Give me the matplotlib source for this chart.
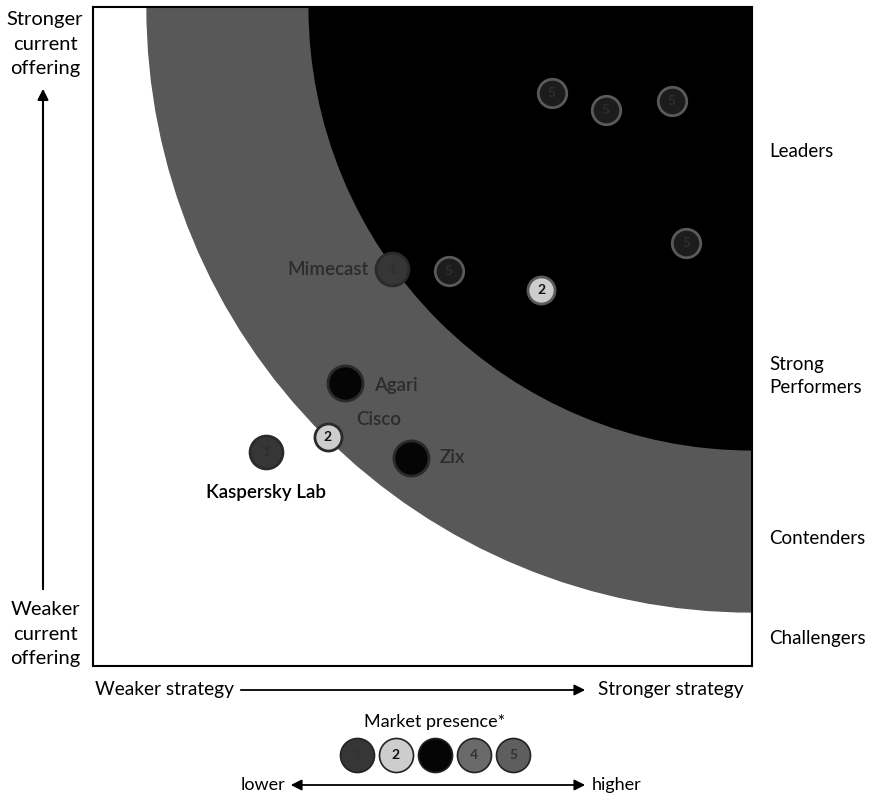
import matplotlib.pyplot as plt
from matplotlib.patches import Circle, FancyArrowPatch

# vendors: strategy (x), current offering (y), market presence (1-5), label
vx = [3.48, 3.89, 4.39, 4.50, 3.40, 2.70, 2.27, 1.91, 1.78, 2.41, 1.31]
vy = [4.35, 4.22, 4.29, 3.21, 2.85, 3.00, 3.01, 2.15, 1.74, 1.58, 1.62]
presence = [5, 5, 5, 5, 2, 5, 1, 3, 2, 3, 1]
names = ["", "", "", "", "", "", "Mimecast", "Agari", "Cisco", "Zix", "Kaspersky Lab"]

bands = ["Leaders", "Strong\nPerformers", "Contenders", "Challengers"]
band_y = [3.90, 2.20, 0.97, 0.21]
ring_r = [4.59, 3.36]

pres_col = {1: "#363636", 2: "#cdcdcd", 3: "#050505", 4: "#6a6a6a", 5: "#5e5e5e"}
pres_txt = {1: "1", 2: "2", 3: "", 4: "4", 5: "5"}
pres_size = {1: 560, 2: 380, 3: 640, 4: 420, 5: 420}

plt.rcParams['font.family'] = ['Lato', 'DejaVu Sans']

fig = plt.figure(figsize=(8.72, 8.02), dpi=100)
ax = fig.add_axes([93/872, 1-666/802, 659/872, 659/802])
ax.set_xlim(0, 5)
ax.set_ylim(0, 5)
ax.set_xticks([])
ax.set_yticks([])
for s in ax.spines.values():
    s.set_linewidth(1.5)
    s.set_zorder(10)

# wave bands centred on the top right corner
ax.add_patch(Circle((5, 5), ring_r[0], color="#585858", zorder=1))
ax.add_patch(Circle((5, 5), ring_r[1], color="#000000", zorder=2))

for i in range(len(vx)):
    p = presence[i]
    on_black = (vx[i]-5)**2 + (vy[i]-5)**2 < ring_r[1]**2
    fc = "#1c1c1c" if (on_black and p == 5) else pres_col[p]
    ec = "#5a5a5a" if on_black else "#2a2a2a"
    ax.scatter(vx[i], vy[i], s=pres_size[p], color=fc, edgecolor=ec,
               linewidth=2, zorder=5)
    if pres_txt[p]:
        tc = "#111111" if p == 2 else "#2e2e2e"
        ax.text(vx[i], vy[i], pres_txt[p], ha="center", va="center", fontsize=10,
                fontweight="bold", color=tc, zorder=6)

# vendor labels (barely readable in the scan, dark on dark)
lab_off = {"Mimecast": (-0.18, 0.0, "right", "center"),
           "Agari": (0.22, -0.02, "left", "center"),
           "Cisco": (0.22, 0.13, "left", "center"),
           "Zix": (0.22, 0.0, "left", "center"),
           "Kaspersky Lab": (0.0, -0.30, "center", "center")}
for i in range(len(vx)):
    if names[i]:
        dx, dy, ha, va = lab_off[names[i]]
        if names[i] == "Kaspersky Lab":
            ax.text(vx[i]+dx, vy[i]+dy, names[i], ha=ha, va=va, fontsize=13.5,
                    fontweight="semibold", color="black", zorder=6)
        else:
            ax.text(vx[i]+dx, vy[i]+dy, names[i], ha=ha, va=va, fontsize=13.5,
                    fontweight="semibold", color="#2c2c2c", zorder=6)

for b, y in zip(bands, band_y):
    ax.text(5.13, y, b, ha="left", va="center", fontsize=13.5, linespacing=1.45,
            clip_on=False)

# axis captions and arrows
fig.text(45/872, 1-44/802, "Stronger\ncurrent\noffering", ha="center", va="center",
         fontsize=14.5, linespacing=1.55)
fig.text(45/872, 1-634/802, "Weaker\ncurrent\noffering", ha="center", va="center",
         fontsize=14.5, linespacing=1.55)
fig.patches.append(FancyArrowPatch(
    (43/872, 1-592/802), (43/872, 1-86/802), transform=fig.transFigure,
    arrowstyle="-|>", mutation_scale=16, lw=1.5, color="black"))

fig.text(95/872, 1-690/802, "Weaker strategy", ha="left", va="center", fontsize=13.8)
fig.text(598/872, 1-690/802, "Stronger strategy", ha="left", va="center", fontsize=13.8)
fig.patches.append(FancyArrowPatch(
    (238/872, 1-690/802), (588/872, 1-690/802), transform=fig.transFigure,
    arrowstyle="-|>", mutation_scale=16, lw=1.3, color="black"))

# market presence legend
fig.text(435/872, 1-722/802, "Market presence*", ha="center", va="center", fontsize=13)
lax = fig.add_axes([337/872, 1-775/802, 196/872, 40/802])
lax.set_xlim(0.5, 5.5)
lax.set_ylim(0, 1)
lax.axis("off")
for p in range(1, 6):
    lax.scatter(p, 0.5, s=600, color=pres_col[p], edgecolor="#222222", linewidth=1.2)
    if pres_txt[p]:
        lax.text(p, 0.5, pres_txt[p], ha="center", va="center", fontsize=10,
                 fontweight="bold", color="#111111" if p == 2 else "#333333")

fig.text(285/872, 1-785/802, "lower", ha="right", va="center", fontsize=13)
fig.text(592/872, 1-785/802, "higher", ha="left", va="center", fontsize=13)
fig.patches.append(FancyArrowPatch(
    (288/872, 1-785/802), (588/872, 1-785/802), transform=fig.transFigure,
    arrowstyle="<|-|>", mutation_scale=16, lw=1.3, color="black"))

fig.savefig("out.png", dpi=100)
